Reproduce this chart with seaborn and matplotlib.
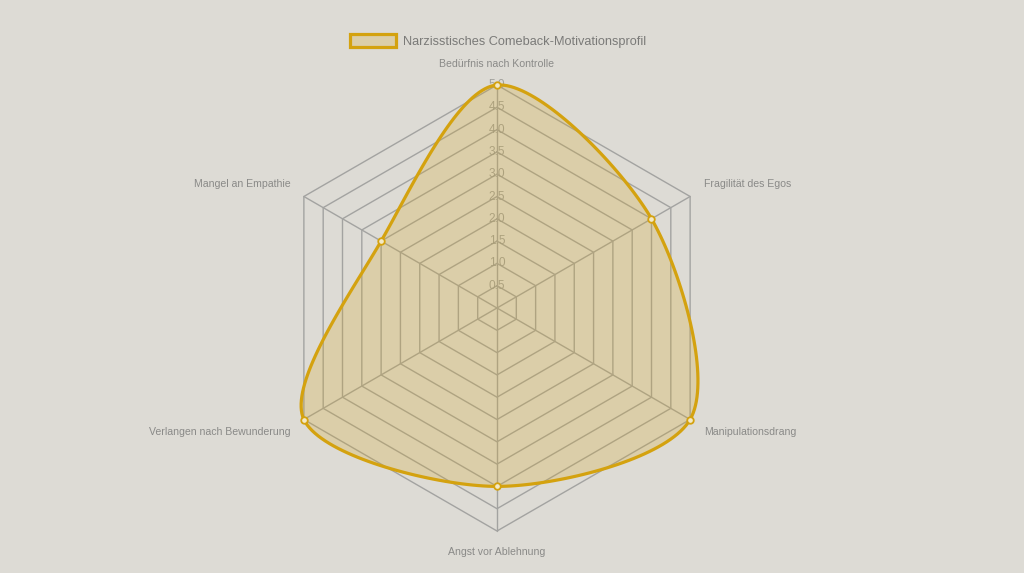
import numpy as np
import pandas as pd
import matplotlib
matplotlib.use("Agg")
import matplotlib.pyplot as plt
import seaborn as sns

# Data
categories = ["Bedürfnis nach Kontrolle", "Fragilität des Egos", "Manipulationsdrang",
              "Angst vor Ablehnung", "Verlangen nach Bewunderung", "Mangel an Empathie"]
values = [5.0, 4.0, 5.0, 4.0, 5.0, 3.0]
series_name = "Narzisstisches Comeback-Motivationsprofil"
ticks = [0.5, 1.0, 1.5, 2.0, 2.5, 3.0, 3.5, 4.0, 4.5, 5.0]
r_max = 5.0

bg = "#dddbd5"
gold = "#d4a20f"
grid_col = "#a3a3a1"
text_col = "#8a8a88"

sns.set_theme(style="white")
plt.rcParams["font.family"] = ["Liberation Sans", "DejaVu Sans"]

W, H = 1024, 573
cx, cy = 497, 308           # centre in pixels (from top-left)
px_per_unit = 223 / r_max

fig = plt.figure(figsize=(W / 100, H / 100), dpi=100, facecolor=bg)
ax = fig.add_axes([0, 0, 1, 1])
ax.set_facecolor(bg)
ax.set_xlim(-cx / px_per_unit, (W - cx) / px_per_unit)
ax.set_ylim(-(H - cy) / px_per_unit, cy / px_per_unit)
ax.axis("off")

n = len(categories)
angles = np.pi / 2 - np.arange(n) * 2 * np.pi / n


def to_xy(r, a):
    return r * np.cos(a), r * np.sin(a)


# grid rings and spokes
for t in ticks:
    gx, gy = to_xy(t, np.append(angles, angles[0]))
    ax.plot(gx, gy, color=grid_col, lw=1.0, zorder=1)
for a in angles:
    sx, sy = to_xy(np.array([0, r_max]), a)
    ax.plot(sx, sy, color=grid_col, lw=1.0, zorder=1)


# smooth closed curve (chart.js style spline)
def spline_closed(xs, ys, tension=0.3, steps=40):
    pts = np.column_stack([xs, ys])
    m = len(pts)
    cp_prev, cp_next = [], []
    for i in range(m):
        p0, p1, p2 = pts[i - 1], pts[i], pts[(i + 1) % m]
        d01 = np.hypot(*(p1 - p0))
        d12 = np.hypot(*(p2 - p1))
        fa = tension * d01 / (d01 + d12)
        fb = tension * d12 / (d01 + d12)
        cp_prev.append(p1 - fa * (p2 - p0))
        cp_next.append(p1 + fb * (p2 - p0))
    out = []
    s = np.linspace(0, 1, steps, endpoint=False)[:, None]
    for i in range(m):
        a0, a1 = pts[i], cp_next[i]
        b1, b0 = cp_prev[(i + 1) % m], pts[(i + 1) % m]
        seg = (1 - s) ** 3 * a0 + 3 * (1 - s) ** 2 * s * a1 + 3 * (1 - s) * s ** 2 * b1 + s ** 3 * b0
        out.append(seg)
    out = np.vstack(out + [pts[:1]])
    return out[:, 0], out[:, 1]


vx, vy = to_xy(np.array(values), angles)
curve_x, curve_y = spline_closed(vx, vy)
ax.fill(curve_x, curve_y, facecolor=(214 / 255, 166 / 255, 30 / 255, 0.24),
        edgecolor=gold, lw=2.3, zorder=3, label=series_name)

df = pd.DataFrame({"x": vx, "y": vy, "cat": categories})
sns.scatterplot(data=df, x="x", y="y", ax=ax, s=22, color="#f3e9c6",
                edgecolor=gold, linewidth=1.3, zorder=4, legend=False)

# tick labels along the top spoke
for t in ticks:
    ax.text(0, t, f"{t:.1f}", ha="center", va="center", fontsize=8.6,
            color="#9a9a96", alpha=0.9, zorder=2)

# category labels
lab_r = r_max + 0.35
for cat, a in zip(categories, angles):
    lx, ly = to_xy(lab_r, a)
    c = np.cos(a)
    if abs(c) < 1e-6:
        ha = "center"
    elif c > 0:
        ha = "left"
    else:
        ha = "right"
    va = "bottom" if np.sin(a) > 0 else "top"
    ax.text(lx, ly, cat, ha=ha, va=va, fontsize=7.6, color=text_col)

leg = ax.legend(loc="center", bbox_to_anchor=(498 / W, 1 - 41 / H), frameon=False,
                fontsize=9.2, handlelength=3.6, handleheight=1.25, handletextpad=0.5)
for txt in leg.get_texts():
    txt.set_color("#7a7a78")

fig.savefig("out.png", dpi=100, facecolor=bg)
